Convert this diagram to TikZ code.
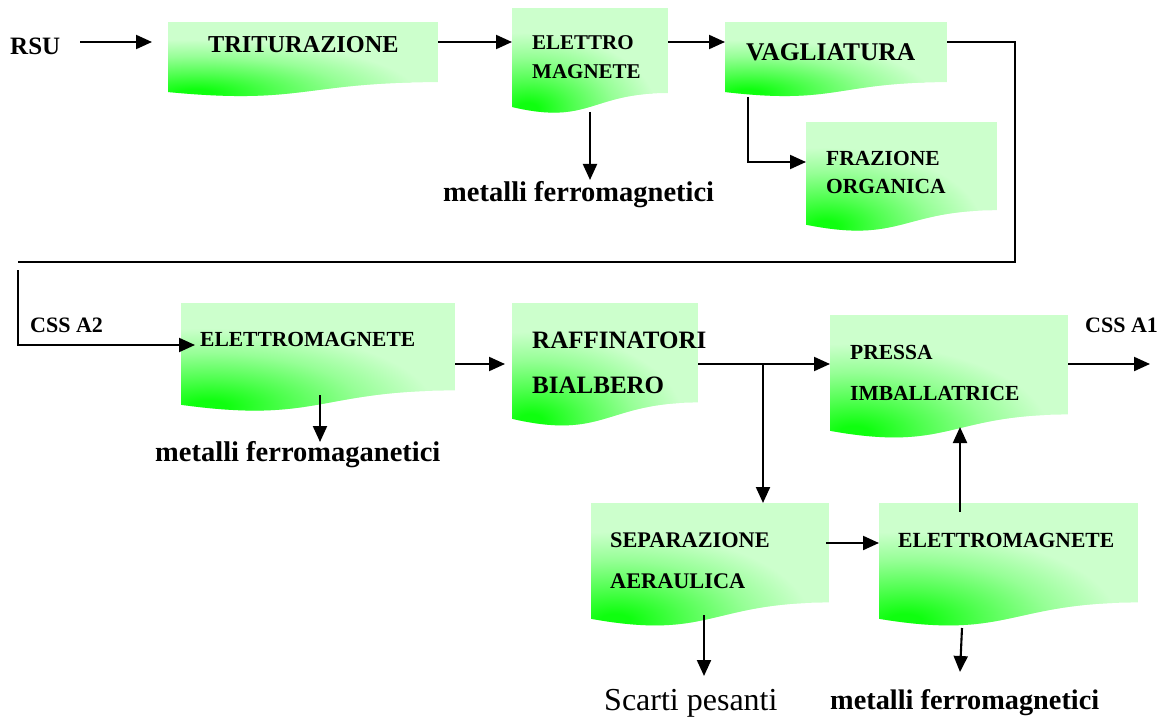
\documentclass[tikz,border=0pt]{standalone}
\usepackage{fontspec}
\setmainfont{Liberation Serif}
\usetikzlibrary{calc,arrows.meta}
\definecolor{gbright}{RGB}{15,255,15}
\definecolor{gmidA}{RGB}{80,255,80}
\definecolor{gmidB}{RGB}{150,255,150}
\definecolor{glight}{RGB}{204,255,204}
\pgfdeclareradialshading{docshade}{\pgfpoint{0bp}{0bp}}{color(0bp)=(gbright); color(2bp)=(gbright); color(9bp)=(gmidA); color(17bp)=(gmidB); color(25bp)=(glight); color(50bp)=(glight)}
\newcommand\fs[1]{\fontsize{#1}{#1}\selectfont}
\newcommand\docbg[1]{%
  \begin{scope}
    \clip let \p1=(#1.north west),\p2=(#1.south east),\n1={\y1-\y2} in
      (\x1,\y1) -- (\x2,\y1) -- (\x2,{\y1-0.802*\n1})
      .. controls ({0.5*\x1+0.5*\x2},{\y1-0.802*\n1}) and ({0.5*\x1+0.5*\x2},{\y1-1.1075*\n1}) ..
      (\x1,{\y1-0.934*\n1}) -- cycle;
    \fill[glight] (#1.north west) rectangle (#1.south east);
    \shade[shading=docshade] let \p1=(#1.south west),\p2=(#1.north east) in
      ({\x1+0.1*(\x2-\x1)},{\y1+0.05*(\y2-\y1)}) ellipse [x radius={0.82*(\x2-\x1)}, y radius={0.72*(\y2-\y1)}];
  \end{scope}}
\begin{document}
\begin{tikzpicture}[x=1pt,y=-1pt,
  box/.style={rectangle,inner sep=0pt,outer sep=0pt,anchor=north west},
  lbl/.style={inner sep=0pt,anchor=west,font=\bfseries\fs{22}},
  arr/.style={line width=2.1pt,-{Triangle[length=16pt,width=14pt]}},
  ln/.style={line width=2.1pt}]
\useasboundingbox (0,0) rectangle (1166,719);
% boxes
\node[box,minimum width=270pt,minimum height=75pt]  (trit) at (168,22) {};
\node[box,minimum width=156pt,minimum height=106pt] (em1)  at (512,8) {};
\node[box,minimum width=222pt,minimum height=75pt]  (vag)  at (725,22) {};
\node[box,minimum width=191pt,minimum height=110pt] (fraz) at (806,122) {};
\node[box,minimum width=274pt,minimum height=109pt] (em2)  at (181,303) {};
\node[box,minimum width=186pt,minimum height=124pt] (raf)  at (512,303) {};
\node[box,minimum width=238pt,minimum height=124pt] (pres) at (830,315) {};
\node[box,minimum width=238pt,minimum height=124pt] (sep)  at (591,503) {};
\node[box,minimum width=259pt,minimum height=124pt] (em3)  at (879,503) {};
\docbg{trit}\docbg{em1}\docbg{vag}\docbg{fraz}\docbg{em2}\docbg{raf}\docbg{pres}\docbg{sep}\docbg{em3}
% labels
\node[lbl,font=\bfseries\fs{25}] (rsu) at (10,46) {RSU};
\node[lbl,font=\bfseries\fs{24.3}] at (208,45) {TRITURAZIONE};
\node[lbl,font=\bfseries\fs{21}] at (532,43) {ELETTRO};
\node[lbl,font=\bfseries\fs{21}] at (532,72) {MAGNETE};
\node[lbl,font=\bfseries\fs{25.5}] at (746,52) {VAGLIATURA};
\node[lbl,font=\bfseries\fs{21.5}] at (826,158) {FRAZIONE};
\node[lbl,font=\bfseries\fs{21.5}] at (826,186) {ORGANICA};
\node[lbl,font=\bfseries\fs{28.5}] (mf1) at (443,195) {metalli ferromagnetici};
\node[lbl,font=\bfseries\fs{22}] at (30,325) {CSS A2};
\node[lbl,font=\bfseries\fs{21.5}] at (200,339) {ELETTROMAGNETE};
\node[lbl,font=\bfseries\fs{28.5}] (mf2) at (155,455) {metalli ferromaganetici};
\node[lbl,font=\bfseries\fs{25}] at (532,340) {RAFFINATORI};
\node[lbl,font=\bfseries\fs{25}] at (532,385) {BIALBERO};
\node[lbl,font=\bfseries\fs{21.5}] at (850,352) {PRESSA};
\node[lbl,font=\bfseries\fs{21.5}] at (850,393) {IMBALLATRICE};
\node[lbl,font=\bfseries\fs{22}] at (1085,325) {CSS A1};
\node[lbl,font=\bfseries\fs{22.3}] at (610,540) {SEPARAZIONE};
\node[lbl,font=\bfseries\fs{22.3}] at (610,581) {AERAULICA};
\node[lbl,font=\bfseries\fs{21.6}] at (898,540) {ELETTROMAGNETE};
\node[lbl,font=\fs{32}] (sp) at (604,703) {Scarti pesanti};
\node[lbl,font=\bfseries\fs{28.3}] (mf3) at (830,703) {metalli ferromagnetici};
% connectors
\coordinate (rsuA) at (80,42);
\coordinate (cssA1) at (1150,364);
\coordinate (lbA) at (1015,42);
\coordinate (lbB) at (1015,262);
\coordinate (lbC) at (18,262);
\coordinate (lbD) at (18,270);
\coordinate (lbE) at (18,345);
\draw[arr] (rsuA) -- ([xshift=-16pt]trit.west |- rsuA);
\draw[arr] (trit.east |- rsuA) -- (em1.west |- rsuA);
\draw[arr] (em1.east |- rsuA) -- (vag.west |- rsuA);
\draw[ln] (vag.east |- lbA) -- (lbA) -- (lbB) -- (lbC);
\draw[arr] (lbD) -- (lbE) -- ([xshift=14pt]em2.west |- lbE);
\draw[arr] (590,112) -- (590,180);
\draw[arr] (748,97) -- (748,162) -- (fraz.west |- 0,162);
\draw[arr] (320,395) -- (320,442);
\draw[arr] (em2.east |- 0,364) -- ([xshift=-7pt]raf.west |- 0,364);
\coordinate (br) at (763,364);
\draw[arr] (raf.east |- br) -- (pres.west |- br);
\draw[arr] (br) -- (br |- sep.north);
\draw[arr] (pres.east |- cssA1) -- (cssA1);
\draw[arr] (826,543) -- (em3.west |- 0,543);
\draw[arr] (960,512) -- (960,427);
\draw[arr] (704,615) -- (704,676);
\draw[arr] (962,628) -- (960,672);
\end{tikzpicture}
\end{document}
